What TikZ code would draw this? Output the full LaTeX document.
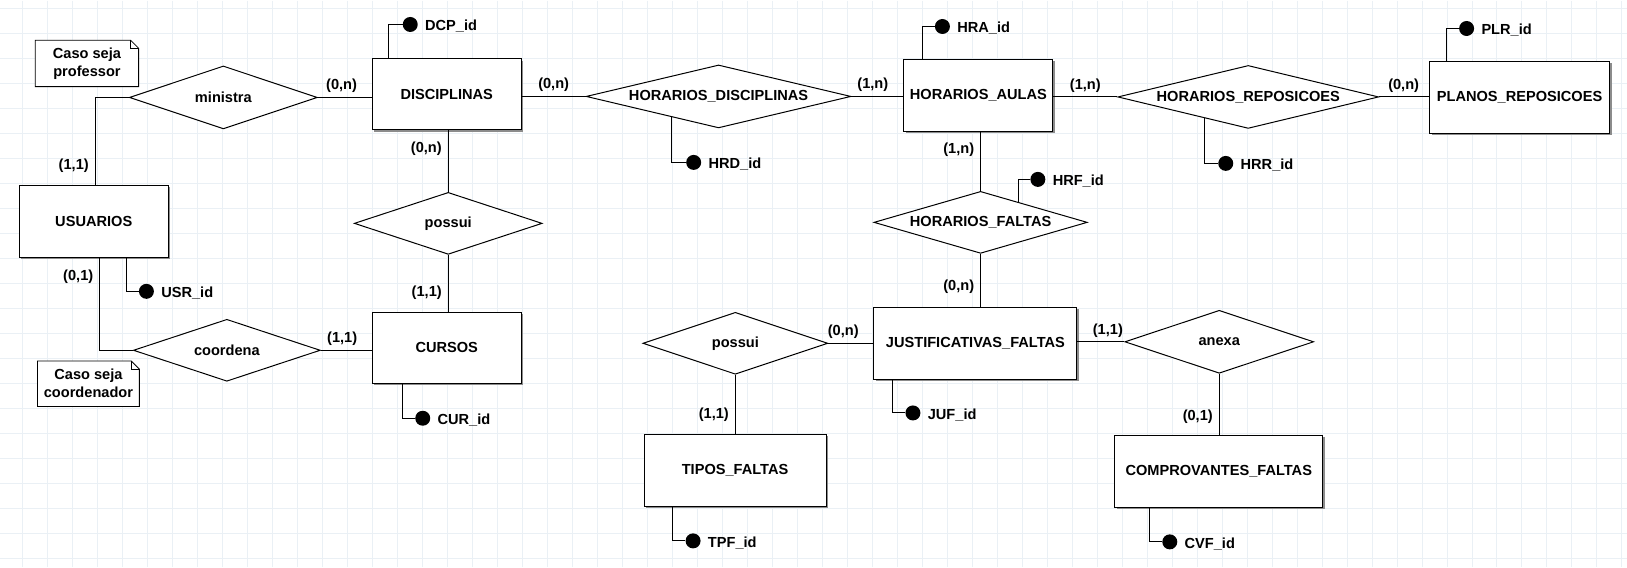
\documentclass[tikz,border=0pt]{standalone}
\usepackage{fontspec}
\setmainfont{Liberation Sans}
\usetikzlibrary{shapes,shadows}
\definecolor{gridcol}{RGB}{234,240,245}

\begin{document}
\begin{tikzpicture}[x=1pt,y=-1pt,font=\fontsize{14.6}{18}\selectfont\bfseries]
  \tikzstyle{entity}=[rectangle,draw,fill=white,line width=1pt,minimum height=72pt,
                      general shadow={fill=black!45,shadow xshift=2pt,shadow yshift=-2pt}]
  \tikzstyle{relation}=[diamond,draw,fill=white,line width=1pt,aspect=4.2,
                        inner sep=0pt,minimum height=63pt]
  \tikzstyle{key}=[circle,fill=black,inner sep=0pt,minimum size=15pt]
  \tikzstyle{every label}=[inner sep=1pt,xshift=6pt,yshift=-2pt]
  \tikzstyle{card}=[inner sep=1pt]
  \tikzstyle{note}=[rectangle,fill=white,align=center,inner sep=0pt]
  \tikzstyle{notebox}=[line width=0.8pt]
  \tikzstyle{link}=[line width=1pt]
  \tikzstyle{grid line}=[line width=1pt,draw=gridcol]

  \fill[white] (0,0) rectangle (1627,567);
  \foreach \gx in {22.4,47.4,...,1627} \draw[grid line] (\gx,0) -- (\gx,567);
  \foreach \gy in {8.3,33.3,...,567} \draw[grid line] (0,\gy) -- (1627,\gy);
  \useasboundingbox (0,0) rectangle (1627,567);

  \node[entity,minimum width=149pt] (usuarios) at (93.3,221) {USUARIOS};
  \node[entity,minimum width=149pt,minimum height=71pt] (disciplinas) at (446.5,94) {DISCIPLINAS};
  \node[entity,minimum width=149pt,minimum height=71pt] (cursos) at (446.5,347.5) {CURSOS};
  \node[entity,minimum width=149pt] (aulas) at (978.5,95) {HORARIOS\_AULAS};
  \node[entity,minimum width=180pt] (planos) at (1520,97) {PLANOS\_REPOSICOES};
  \node[entity,minimum width=203pt] (justif) at (975.5,343) {JUSTIFICATIVAS\_FALTAS};
  \node[entity,minimum width=182pt] (tipos) at (735,470) {TIPOS\_FALTAS};
  \node[entity,minimum width=208pt] (comprov) at (1219,471) {COMPROVANTES\_FALTAS};

  \node[relation,minimum width=188pt] (ministra) at (223,97) {ministra};
  \node[relation,minimum width=188pt,minimum height=62pt] (possui) at (448,223) {possui};
  \node[relation,minimum width=187pt,minimum height=62pt] (coordena) at (226.5,350) {coordena};
  \node[relation,minimum width=265pt] (hdisc) at (718.5,96) {HORARIOS\_DISCIPLINAS};
  \node[relation,minimum width=213.5pt,minimum height=62pt] (hfaltas) at (980.7,222) {HORARIOS\_FALTAS};
  \node[relation,minimum width=261pt] (hrepos) at (1248.5,96.5) {HORARIOS\_REPOSICOES};
  \node[relation,minimum width=185pt,minimum height=62pt] (possuitipo) at (735.3,343) {possui};
  \node[relation,minimum width=189pt] (anexa) at (1219.5,341.5) {anexa};

  \node[note,minimum width=103pt,minimum height=46pt] (noteprof) at (86.5,63) {Caso seja\\professor};
  \node[note,minimum width=101.5pt,minimum height=45pt] (notecoord) at (88,383.5) {Caso seja\\coordenador};
  \foreach \n in {noteprof,notecoord} {
    \draw[notebox] (\n.south west) -- (\n.north west) -- ([xshift=-8pt]\n.north east)
      -- ([yshift=-8pt]\n.north east) -- (\n.south east) -- cycle;
    \draw[notebox] ([xshift=-8pt]\n.north east) -- ([xshift=-8pt,yshift=-8pt]\n.north east)
      -- ([yshift=-8pt]\n.north east);
  }

  \node[key,label={right:DCP\_id}] (dcpid) at (410,24) {};
  \node[key,label={right:HRA\_id}] (hraid) at (942.5,26) {};
  \node[key,label={right:PLR\_id}] (plrid) at (1467,28) {};
  \node[key,label={right:USR\_id}] (usrid) at (146,291) {};
  \node[key,label={right:CUR\_id}] (curid) at (422.5,418) {};
  \node[key,label={right:HRD\_id}] (hrdid) at (693.6,162) {};
  \node[key,label={right:HRR\_id}] (hrrid) at (1226,163) {};
  \node[key,label={right:HRF\_id}] (hrfid) at (1038,179) {};
  \node[key,label={right:JUF\_id}] (jufid) at (913,412.7) {};
  \node[key,label={right:TPF\_id}] (tpfid) at (693,540.7) {};
  \node[key,label={right:CVF\_id}] (cvfid) at (1170,541.7) {};

  \draw[link] ([xshift=17pt]disciplinas.north west) |- (dcpid);
  \draw[link] ([xshift=19pt]aulas.north west) |- (hraid);
  \draw[link] ([xshift=17.5pt]planos.north west) |- (plrid);
  \draw[link] ([xshift=-42pt]usuarios.south east) |- (usrid);
  \draw[link] ([xshift=30.5pt]cursos.south west) |- (curid);
  \draw[link] (hdisc.204.4) |- (hrdid);
  \draw[link] (hrepos.206.2) |- (hrrid);
  \draw[link] (hfaltas.28.9) |- (hrfid);
  \draw[link] ([xshift=19pt]justif.south west) |- (jufid);
  \draw[link] ([xshift=29pt]tipos.south west) |- (tpfid);
  \draw[link] ([xshift=35pt]comprov.south west) |- (cvfid);

  \draw[link] (ministra.west) -| node[card,pos=0.89,left=5pt] {(1,1)} ([xshift=1.5pt]usuarios.north);
  \draw[link] (ministra.east) -- node[card,pos=0.44,above=3pt] {(0,n)} (ministra.east -| disciplinas.west);
  \draw[link] (possui.north |- disciplinas.south) -- node[card,pos=0.3,left=5pt] {(0,n)} (possui.north);
  \draw[link] (possui.south) -- node[card,pos=0.66,left=5pt] {(1,1)} (possui.south |- cursos.north);
  \draw[link] ([xshift=6pt]usuarios.south) |- node[card,pos=0.1,left=5pt] {(0,1)} (coordena.west);
  \draw[link] (coordena.east) -- node[card,pos=0.42,above=3pt] {(1,1)} (coordena.east -| cursos.west);
  \draw[link] (disciplinas.east |- hdisc.west) -- node[card,pos=0.5,above=3pt] {(0,n)} (hdisc.west);
  \draw[link] (hdisc.east) -- node[card,pos=0.41,above=3pt] {(1,n)} (hdisc.east -| aulas.west);
  \draw[link] (aulas.east |- hrepos.west) -- node[card,pos=0.5,above=3pt] {(1,n)} (hrepos.west);
  \draw[link] (hrepos.east) -- node[card,pos=0.49,above=3pt] {(0,n)} (hrepos.east -| planos.west);
  \draw[link] (hfaltas.north |- aulas.south) -- node[card,pos=0.3,left=5pt] {(1,n)} (hfaltas.north);
  \draw[link] (hfaltas.south) -- node[card,pos=0.63,left=5pt] {(0,n)} (hfaltas.south |- justif.north);
  \draw[link] (possuitipo.east) -- node[card,pos=0.33,above=3pt] {(0,n)} (possuitipo.east -| justif.west);
  \draw[link] (possuitipo.south) -- node[card,pos=0.67,left=5pt] {(1,1)} (possuitipo.south |- tipos.north);
  \draw[link] (justif.east |- anexa.west) -- node[card,pos=0.65,above=3pt] {(1,1)} (anexa.west);
  \draw[link] (anexa.south) -- node[card,pos=0.7,left=5pt] {(0,1)} (anexa.south |- comprov.north);
\end{tikzpicture}
\end{document}
